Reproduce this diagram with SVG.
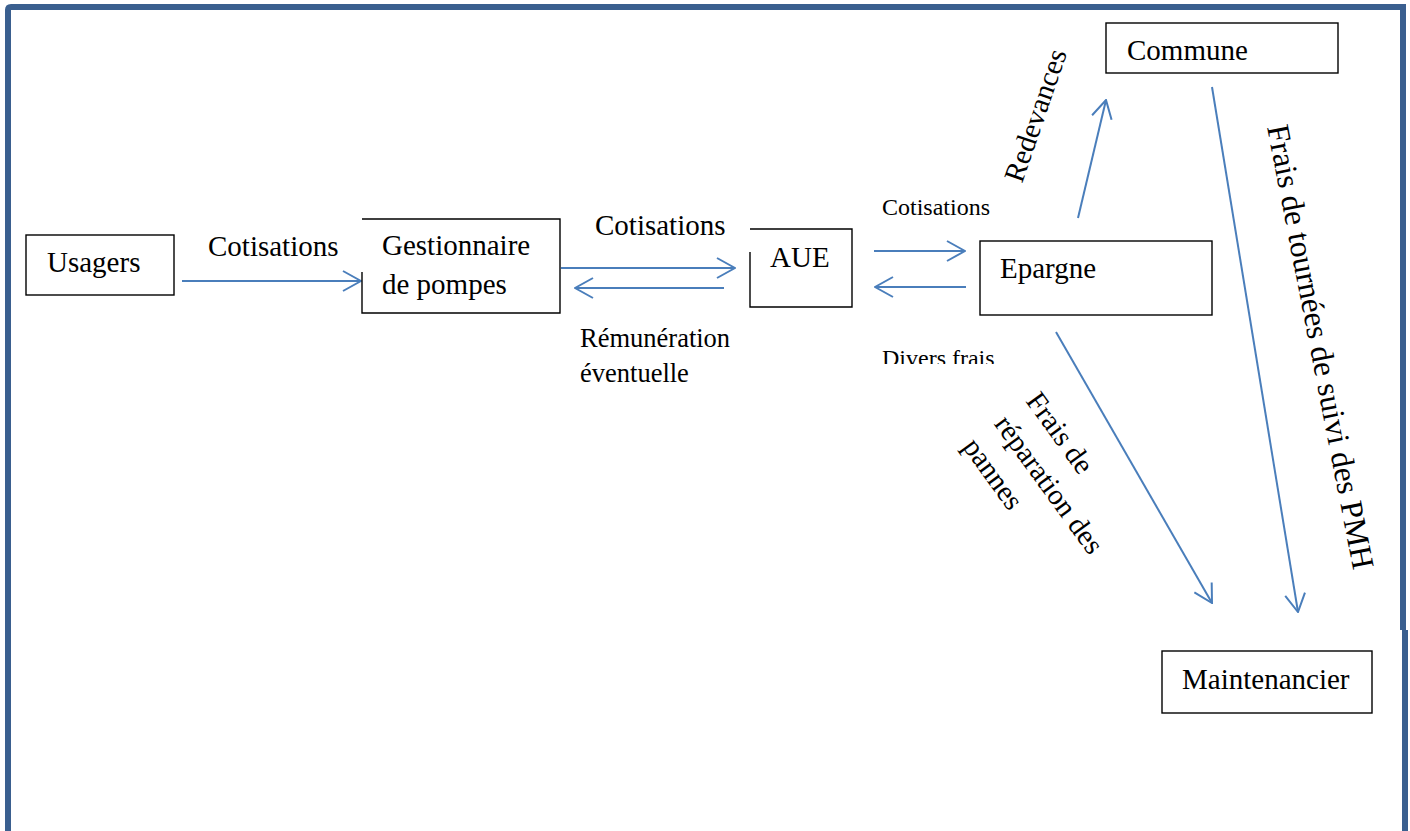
<svg xmlns="http://www.w3.org/2000/svg" width="1410" height="831" viewBox="0 0 1410 831">
<style>
.box{fill:#fff;stroke:#000;stroke-width:1.4}
.t{font-family:"Liberation Serif","Times New Roman",serif;fill:#000;font-size:29px}
.s{font-size:24px}
.m{font-size:26.5px}
.big{font-size:31.8px}
.c{fill:none;stroke:#4a7ebb;stroke-width:2}
</style>
<defs>
<marker id="ah" markerUnits="userSpaceOnUse" viewBox="0 0 20 22" refX="19" refY="11" markerWidth="20" markerHeight="22" orient="auto">
<path d="M1,1 L19,11 L1,21" fill="none" stroke="#4a7ebb" stroke-width="2"/>
</marker>
<clipPath id="clipDiv"><rect x="870" y="330" width="200" height="34"/></clipPath>
</defs>
<rect width="1410" height="831" fill="#fff"/>
<g id="frame">
<path d="M8,831 V10 Q8,7 11,7 H1403 V630" fill="none" stroke="#3a5f8f" stroke-width="6"/>
<path d="M1405,630 V831" fill="none" stroke="#3a5f8f" stroke-width="6"/>
</g>
<g id="connectors">
<line class="c" x1="182" y1="281" x2="361" y2="281" marker-end="url(#ah)"/>
<line class="c" x1="561" y1="268" x2="735" y2="268" marker-end="url(#ah)"/>
<line class="c" x1="724" y1="288" x2="575" y2="288" marker-end="url(#ah)"/>
<line class="c" x1="874" y1="251" x2="965" y2="251" marker-end="url(#ah)"/>
<line class="c" x1="966" y1="287" x2="875" y2="287" marker-end="url(#ah)"/>
<line class="c" x1="1078" y1="218" x2="1106" y2="100" marker-end="url(#ah)"/>
<line class="c" x1="1212" y1="87" x2="1298" y2="612" marker-end="url(#ah)"/>
<line class="c" x1="1056" y1="332" x2="1212" y2="603" marker-end="url(#ah)"/>
</g>
<g id="labels">
<text class="t" x="208" y="256">Cotisations</text>
<text class="t" x="595" y="235">Cotisations</text>
<text class="t m" x="580" y="347">Rémunération</text>
<text class="t m" x="580" y="382">éventuelle</text>
<text class="t s" x="882" y="215">Cotisations</text>
<text class="t s" x="882" y="366" clip-path="url(#clipDiv)">Divers frais</text>
<text class="t" transform="translate(1022,184) rotate(-71)">Redevances</text>
<g transform="translate(1025,401) rotate(54)">
<text class="t" x="0" y="0">Frais de</text>
<text class="t" x="0" y="39">réparation des</text>
<text class="t" x="0" y="78">pannes</text>
</g>
<text class="t big" transform="translate(1267,127) rotate(79)">Frais de tournées de suivi des PMH</text>
</g>
<g id="usagers">
<rect class="box" x="26" y="235" width="148" height="60"/>
<text class="t" x="47" y="272">Usagers</text>
</g>
<g id="gestionnaire">
<path d="M362,272 V313 H560 V219 H362" fill="#fff" stroke="#000" stroke-width="1.4"/>
<text class="t" x="382" y="255">Gestionnaire</text>
<text class="t" x="382" y="294">de pompes</text>
</g>
<g id="aue">
<path d="M750,252 V307 H852 V229 H750" fill="#fff" stroke="#000" stroke-width="1.4"/>
<text class="t" x="770" y="267">AUE</text>
</g>
<g id="epargne">
<rect class="box" x="980" y="241" width="232" height="74"/>
<text class="t" x="1000" y="278">Epargne</text>
</g>
<g id="commune">
<rect class="box" x="1106" y="23" width="232" height="50"/>
<text class="t" x="1127" y="60">Commune</text>
</g>
<g id="maintenancier">
<rect class="box" x="1162" y="651" width="210" height="62"/>
<text class="t" x="1182" y="689">Maintenancier</text>
</g>
</svg>
